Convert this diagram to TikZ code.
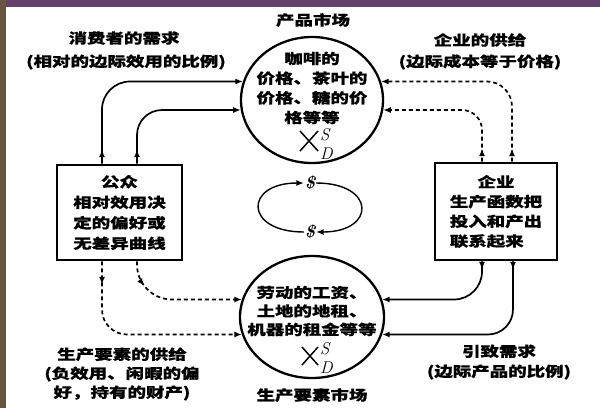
\documentclass[tikz,border=0pt]{standalone}
\usepackage{fontspec}
\usepackage{calc}
\newfontfamily\cjk{Noto Sans CJK SC}[FakeStretch=1.32, BoldFeatures={FakeBold=0.6}]
\usetikzlibrary{arrows.meta,decorations.markings,shapes.geometric}
\definecolor{topbar}{RGB}{98,66,108}
\definecolor{leftbar}{RGB}{104,84,64}
\begin{document}
\begin{tikzpicture}[x=1pt,y=-1pt,
  zh/.style={font=\cjk\bfseries\fontsize{14}{20}\selectfont, inner sep=0pt, align=center},
  mkt/.style={draw, ellipse, line width=2.3pt, inner sep=0pt},
  agent/.style={draw, rectangle, line width=2.9pt, inner sep=0pt},
  conn/.style={line width=1.7pt, -{Latex[length=7.5pt,width=6pt]}},
  dconn/.style={conn, dash pattern=on 4pt off 3pt},
  midarrow/.style={postaction={decorate}, decoration={markings, mark=at position #1 with {\arrow{Latex[length=7.5pt,width=6pt]}}}},
  sd/.style={font=\itshape\fontsize{17}{17}\selectfont, inner sep=0pt, anchor=west},
  cross/.style={line width=1.5pt},
  dollar/.style={font=\bfseries\itshape\fontsize{17}{17}\selectfont, inner sep=1pt}
]
\useasboundingbox (0,0) rectangle (600,408);
\fill[white] (0,0) rectangle (600,408);
\fill[topbar] (0,0) rectangle (600,7);
\fill[leftbar] (0,0) rectangle (6,408);

% markets
\node[mkt, minimum width=142pt, minimum height=126pt] (pm) at (312,100) {};
\node[mkt, minimum width=144pt, minimum height=122pt] (fm) at (312,317) {};
\node[zh, font=\cjk\bfseries\fontsize{14}{19.7}\selectfont] (pmtxt) at (312,88) {咖啡的\\价格、茶叶的\\价格、糖的价\\格等等};
\node[zh, font=\cjk\bfseries\fontsize{14}{18.5}\selectfont] (fmtxt) at (312,311) {劳动的工资、\\土地的地租、\\机器的租金等等};

% S/D crosses
\draw[cross] (300,131) -- (318,151);
\draw[cross] (300,151) -- (318,131);
\node[sd] (pmS) at (320,135) {S};
\node[sd] (pmD) at (320,154) {D};
\draw[cross] (302,347) -- (318,365);
\draw[cross] (302,365) -- (318,347);
\node[sd] (fmS) at (320,349) {S};
\node[sd] (fmD) at (320,368) {D};

% agents
\node[agent, minimum width=125pt, minimum height=95pt, zh, font=\cjk\bfseries\fontsize{14}{20.5}\selectfont] (pub) at (119.5,212.5) {公众\\相对效用决\\定的偏好或\\无差异曲线};
\node[agent, minimum width=122pt, minimum height=97pt, zh, align=left, font=\cjk\bfseries\fontsize{14}{19.7}\selectfont] (firm) at (496,211.5) {\makebox[\widthof{生产函数把}]{企业}\\生产函数把\\投入和产出\\联系起来};

% money cycle
\node[dollar] (dtop) at (310,183) {\$};
\node[dollar] (dbot) at (310,232) {\$};
\draw[conn, line width=1.4pt] (dbot.west) .. controls +(-60,0) and +(-60,0) .. (dtop.west);
\draw[conn, line width=1.4pt] (dtop.east) .. controls +(60,0) and +(60,0) .. (dbot.east);

% connectors
\draw[conn, rounded corners=28pt, midarrow=14pt] ([xshift=-17.5pt]pub.north) |- (pm.165);
\draw[conn, rounded corners=25pt, midarrow=14pt] ([xshift=17.5pt]pub.north) |- (pm.188);
\draw[dconn, rounded corners=25pt, midarrow=13pt] ([xshift=16pt]firm.north) |- (pm.15);
\draw[dconn, rounded corners=20pt, midarrow=13pt] ([xshift=-14pt]firm.north) |- (pm.-8);
\draw[dconn, rounded corners=25pt, midarrow=23pt] ([xshift=-17.5pt]pub.south) |- (fm.194);
\draw[dconn, rounded corners=35pt, midarrow=26pt] ([xshift=17.5pt]pub.south) |- (fm.166);
\draw[conn, rounded corners=28pt, midarrow=8pt] ([xshift=-14pt]firm.south) |- (fm.14);
\draw[conn, rounded corners=25pt, midarrow=8pt] ([xshift=17pt]firm.south) |- (fm.-14);

% labels
\node[zh] (t1) at (313,20) {产品市场};
\node[zh] (t2) at (124,38) {消费者的需求};
\node[zh] (t3) at (126,62) {(相对的边际效用的比例)};
\node[zh] (t4) at (480,40) {企业的供给};
\node[zh] (t5) at (480,62) {(边际成本等于价格)};
\node[zh, font=\cjk\bfseries\fontsize{14}{19}\selectfont] (t6) at (122,374) {生产要素的供给\\(负效用、闲暇的偏\\好，持有的财产)};
\node[zh] (t7) at (499,362) {引致需求\\(边际产品的比例)};
\node[zh] (t8) at (312,395) {生产要素市场};
\end{tikzpicture}
\end{document}
